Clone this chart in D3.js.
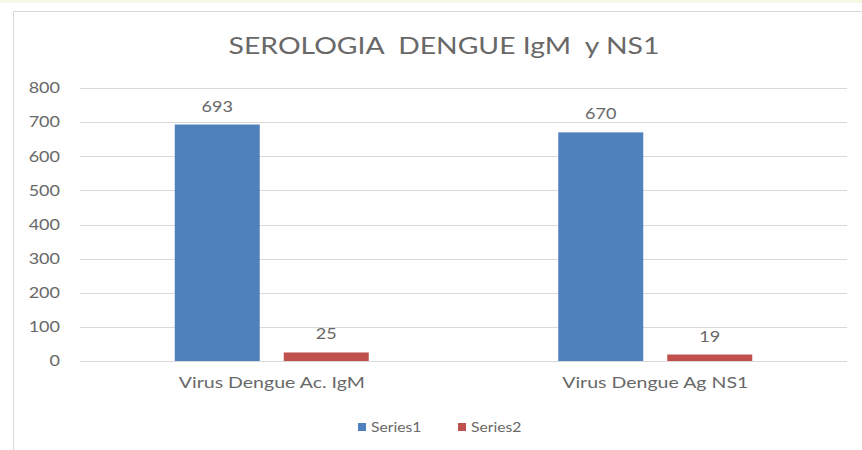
<!DOCTYPE html>
<html>
<head>
<meta charset="utf-8">
<script src="https://cdn.jsdelivr.net/npm/d3@7"></script>
<style>
  body { margin: 0; background: #fff; }
  svg text { font-family: Lato, "Open Sans", sans-serif; fill: #686868; }
</style>
</head>
<body>
<svg id="chart"></svg>
<script>
// data
var categories = ["Virus Dengue Ac. IgM", "Virus Dengue Ag NS1"];
var seriesNames = ["Series1", "Series2"];
var series1 = [693, 670];
var series2 = [25, 19];
var yTicks = [0, 100, 200, 300, 400, 500, 600, 700, 800];
var colors = ["#4f81bd", "#c0504d"];

var w = 862, h = 450;
var txt = "#686868";
var svg = d3.select("#chart").attr("width", w).attr("height", h);

// the reference text looks a bit wide, stretch it horizontally
function stretch(sel, k) {
  sel.each(function() {
    var len = this.getComputedTextLength();
    d3.select(this).attr("textLength", len * k).attr("lengthAdjust", "spacingAndGlyphs");
  });
}

// faint top strip + frame
svg.append("rect").attr("x", 0).attr("y", 0).attr("width", w).attr("height", 3).attr("fill", "#f4f9e6");
svg.append("path")
  .attr("d", "M13.5," + h + " V11.5 H" + w)
  .attr("fill", "none").attr("stroke", "#d9d9d9").attr("stroke-width", 1);

var pLeft = 80, pRight = 847, pTop = 88, pBottom = 361;

var x = d3.scaleBand().domain(categories).range([pLeft, pRight]).paddingInner(0).paddingOuter(0);
var x1 = d3.scaleBand().domain(seriesNames).range([x.bandwidth() / 2 - 97, x.bandwidth() / 2 + 97]).paddingInner(0.22);
var y = d3.scaleLinear().domain([0, 800]).range([pBottom, pTop]);

// gridlines
svg.append("g").selectAll("line").data(yTicks).enter().append("line")
  .attr("x1", pLeft).attr("x2", pRight)
  .attr("y1", function(d) { return Math.round(y(d)) + 0.5; })
  .attr("y2", function(d) { return Math.round(y(d)) + 0.5; })
  .attr("stroke", "#d9d9d9").attr("stroke-width", 1);

// y axis labels
var yAxis = d3.axisLeft(y).tickValues(yTicks).tickSize(0).tickPadding(0);
var ya = svg.append("g").attr("transform", "translate(60,0)").call(yAxis);
ya.select(".domain").remove();
ya.selectAll("text")
  .style("font-size", "15px").attr("fill", txt)
  .style("font-family", "Lato, 'Open Sans', sans-serif")
  .call(stretch, 1.2);

// bars
var rows = categories.map(function(c, i) {
  return [{ cat: c, s: seriesNames[0], v: series1[i], col: colors[0] },
          { cat: c, s: seriesNames[1], v: series2[i], col: colors[1] }];
});
var flat = [].concat.apply([], rows);

svg.append("g").selectAll("rect").data(flat).enter().append("rect")
  .attr("x", function(d) { return x(d.cat) + x1(d.s); })
  .attr("y", function(d) { return y(d.v); })
  .attr("width", x1.bandwidth())
  .attr("height", function(d) { return y(0) - y(d.v); })
  .attr("fill", function(d) { return d.col; });

// data labels
svg.append("g").selectAll("text").data(flat).enter().append("text")
  .attr("x", function(d) { return x(d.cat) + x1(d.s) + x1.bandwidth() / 2; })
  .attr("y", function(d) { return y(d.v) - 13; })
  .attr("text-anchor", "middle")
  .style("font-size", "15px")
  .text(function(d) { return d.v; })
  .call(stretch, 1.2);

// category labels
var xAxis = d3.axisBottom(x).tickSize(0).tickPadding(0);
var xa = svg.append("g").attr("transform", "translate(0," + (pBottom + 16) + ")").call(xAxis);
xa.select(".domain").remove();
xa.selectAll("text")
  .style("font-size", "16px").attr("fill", txt)
  .style("font-family", "Lato, 'Open Sans', sans-serif")
  .call(stretch, 1.22);

// title
svg.append("text")
  .attr("x", 444).attr("y", 54)
  .attr("text-anchor", "middle")
  .style("font-size", "24px")
  .attr("xml:space", "preserve")
  .text("SEROLOGIA  DENGUE IgM  y NS1")
  .call(stretch, 1.18);

// legend
var legend = svg.append("g").attr("transform", "translate(358,427)");
var lg = legend.selectAll("g").data(seriesNames).enter().append("g")
  .attr("transform", function(d, i) { return "translate(" + (i * 100) + ",0)"; });
lg.append("rect").attr("x", 0).attr("y", -4).attr("width", 8).attr("height", 8)
  .attr("fill", function(d, i) { return colors[i]; });
lg.append("text").attr("x", 13).attr("y", 5).style("font-size", "14px")
  .text(function(d) { return d; })
  .call(stretch, 1.12);
</script>
</body>
</html>
